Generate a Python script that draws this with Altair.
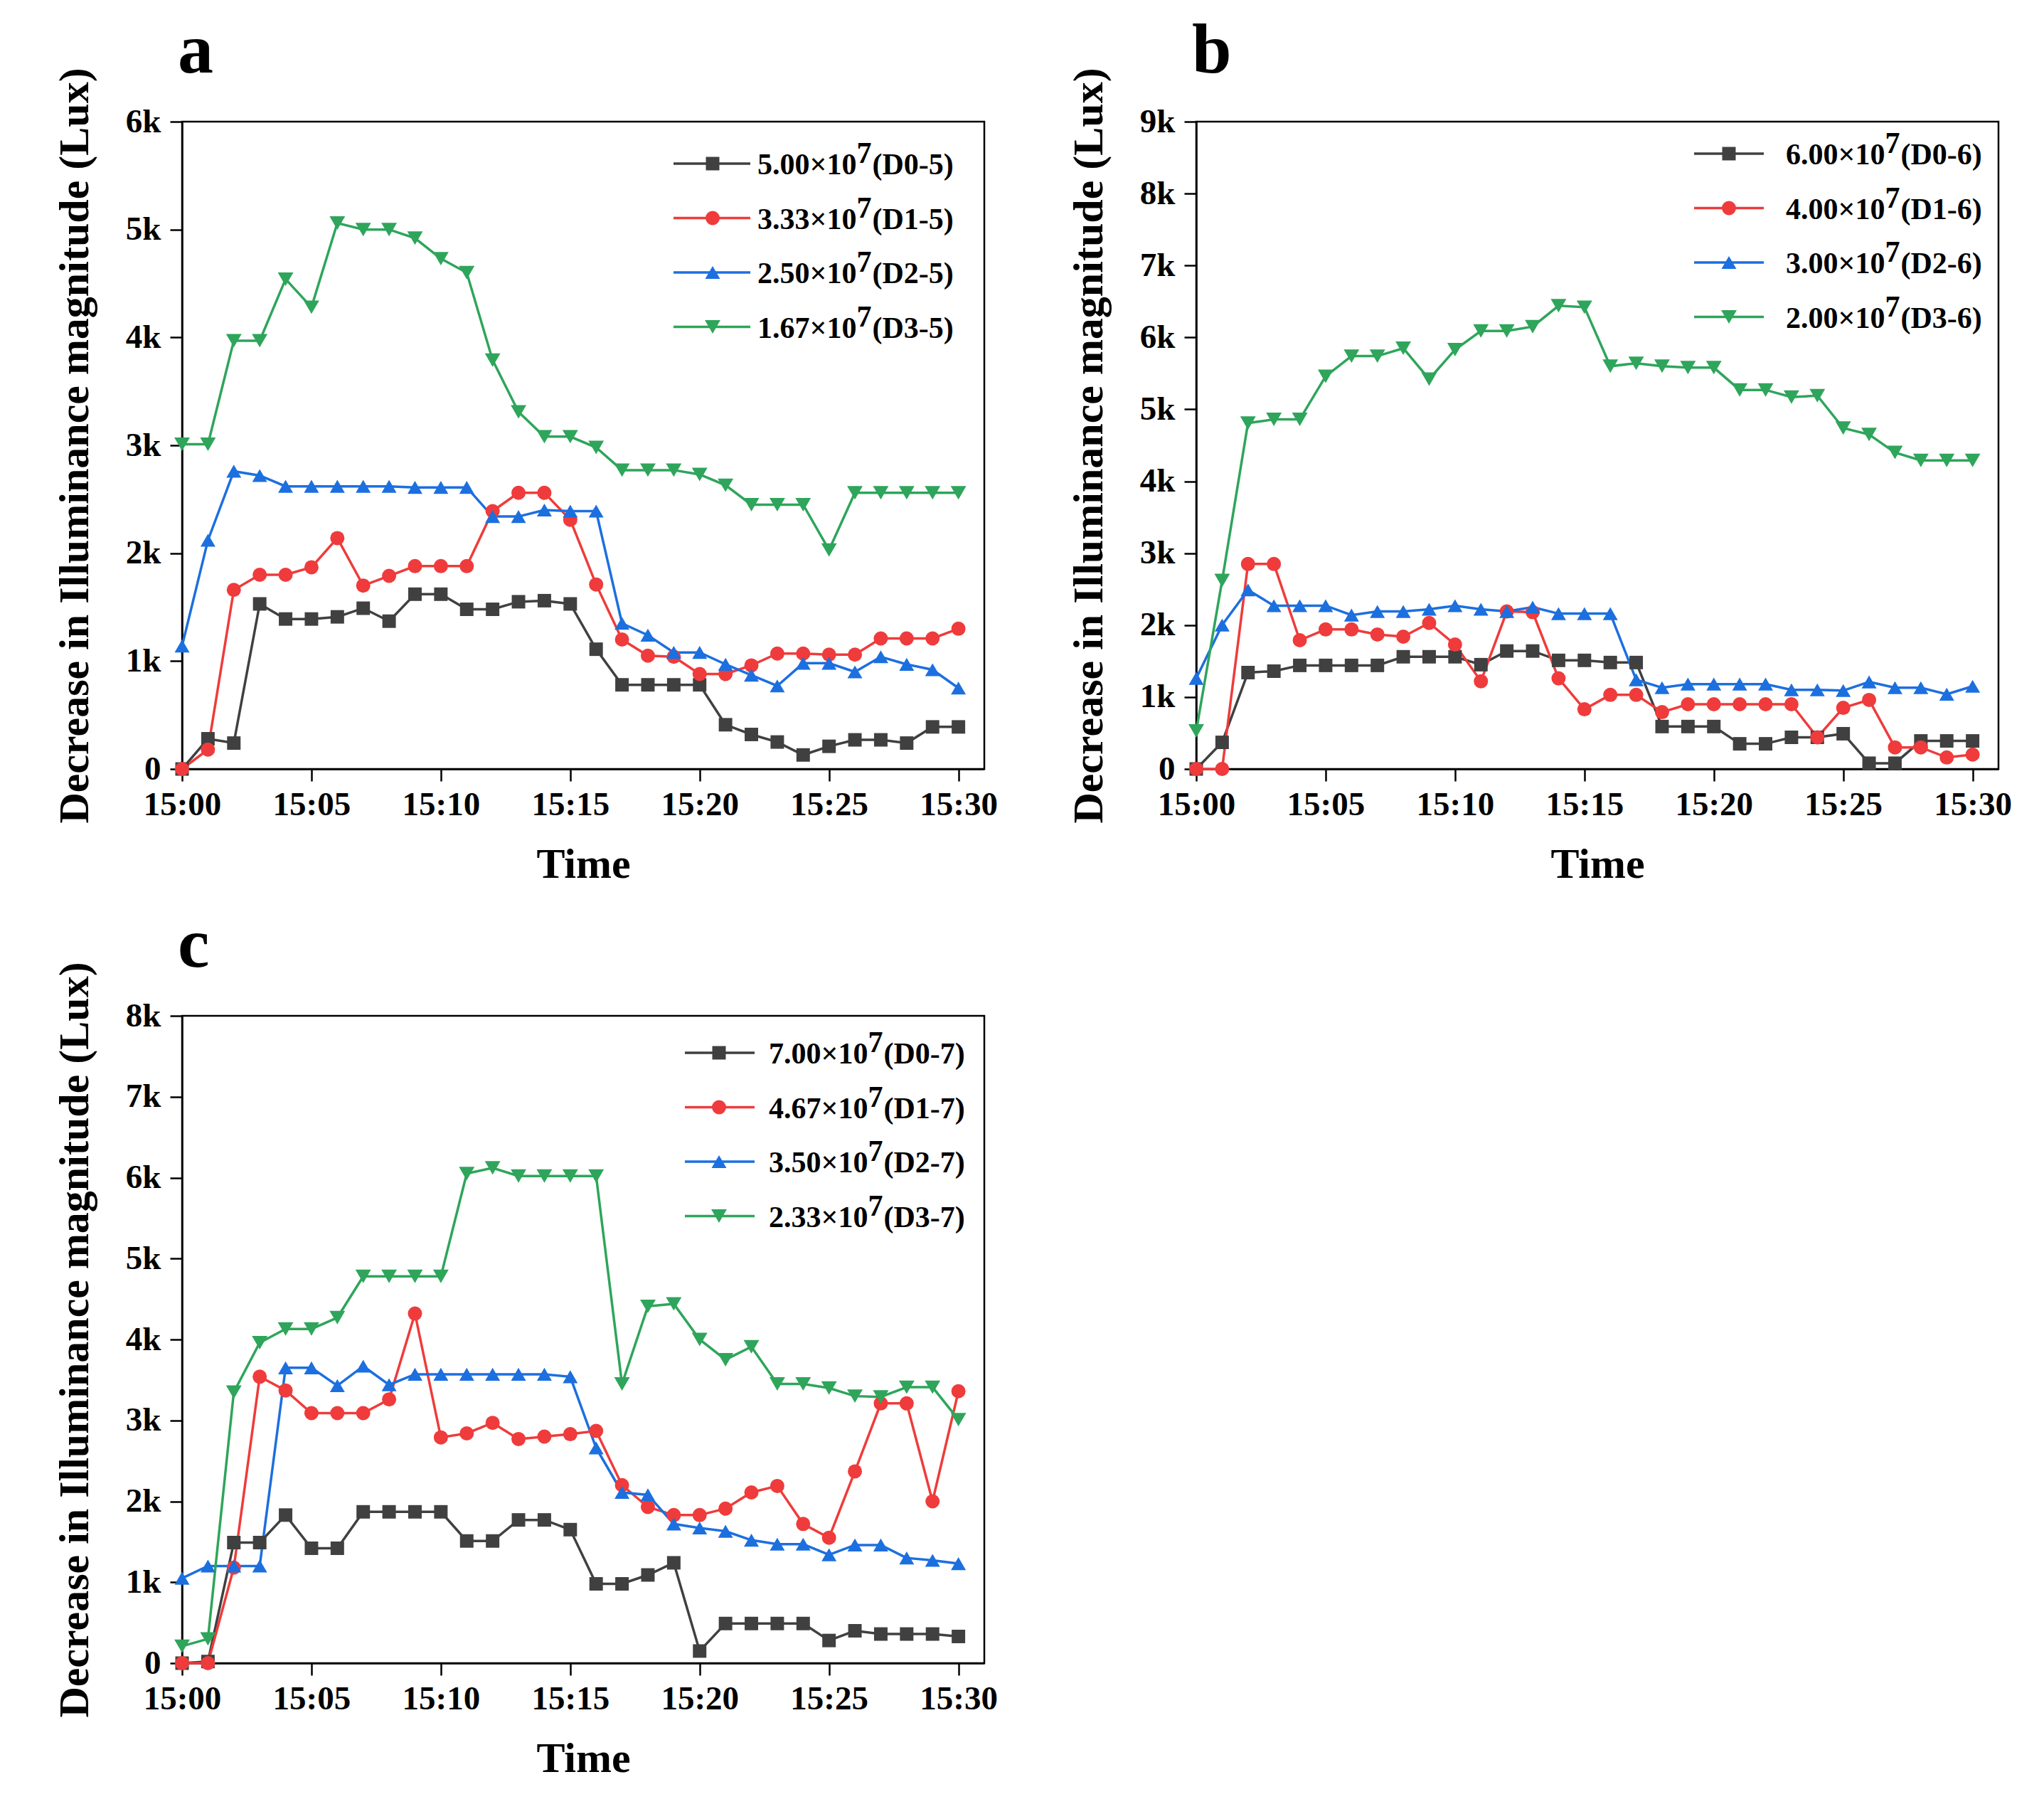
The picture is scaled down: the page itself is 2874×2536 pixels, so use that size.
import json
import altair as alt
import pandas as pd

FONT = "Liberation Serif"

# ---------------- data ----------------
MINUTES = list(range(31))                      # 15:00 ... 15:30
TICK_VALUES = [0, 5, 10, 15, 20, 25, 30]
TICK_LABELS = ["15:00", "15:05", "15:10", "15:15", "15:20", "15:25", "15:30"]

SERIES = ["D0", "D1", "D2", "D3"]
COLORS = ["#404040", "#ef3b3b", "#1c6fdf", "#2ea55b"]
SHAPES = ["square", "circle", "triangle-up", "triangle-down"]
SIZES = [360, 480, 560, 560]

PANEL_LETTERS = ["a", "b", "c"]

# panel a
A_D0 = [0, 280, 240, 1530, 1390, 1390, 1410, 1490, 1370, 1620, 1620, 1480, 1480, 1550, 1560, 1530,
        1110, 780, 780, 780, 780, 410, 320, 250, 130, 210, 270, 270, 240, 390, 390]
A_D1 = [0, 180, 1660, 1800, 1800, 1870, 2140, 1700, 1790, 1880, 1880, 1880, 2390, 2560, 2560, 2310,
        1710, 1200, 1050, 1040, 880, 880, 960, 1070, 1070, 1060, 1060, 1210, 1210, 1210, 1300]
A_D2 = [1140, 2120, 2760, 2720, 2620, 2620, 2620, 2620, 2620, 2610, 2610, 2610, 2340, 2340, 2400, 2390,
        2390, 1350, 1240, 1080, 1080, 970, 870, 770, 980, 980, 900, 1040, 970, 920, 750]
A_D3 = [3010, 3010, 3970, 3970, 4540, 4280, 5060, 5000, 5000, 4920, 4730, 4600, 3790, 3310, 3080, 3080,
        2980, 2770, 2770, 2770, 2730, 2630, 2450, 2450, 2450, 2030, 2560, 2560, 2560, 2560, 2560]
A_COEF = ["5.00", "3.33", "2.50", "1.67"]
A_CODE = ["D0-5", "D1-5", "D2-5", "D3-5"]

# panel b
B_D0 = [0, 370, 1340, 1360, 1440, 1440, 1440, 1440, 1560, 1560, 1560, 1450, 1640, 1640, 1510, 1510,
        1480, 1480, 590, 590, 590, 350, 350, 440, 440, 490, 80, 80, 390, 390, 390]
B_D1 = [0, 0, 2850, 2850, 1790, 1940, 1940, 1870, 1840, 2030, 1730, 1220, 2190, 2180, 1260, 830,
        1030, 1030, 790, 900, 900, 900, 900, 900, 440, 850, 960, 300, 300, 160, 200]
B_D2 = [1260, 2000, 2490, 2270, 2270, 2270, 2140, 2190, 2190, 2220, 2270, 2220, 2190, 2250, 2160, 2160,
        2160, 1240, 1130, 1180, 1180, 1180, 1180, 1100, 1100, 1090, 1210, 1130, 1130, 1040, 1150]
B_D3 = [530, 2620, 4810, 4860, 4860, 5460, 5740, 5740, 5850, 5420, 5830, 6090, 6090, 6150, 6440, 6420,
        5600, 5640, 5600, 5580, 5580, 5270, 5270, 5170, 5190, 4740, 4650, 4400, 4290, 4290, 4290]
B_COEF = ["6.00", "4.00", "3.00", "2.00"]
B_CODE = ["D0-6", "D1-6", "D2-6", "D3-6"]

# panel c
C_D0 = [0, 20, 1490, 1490, 1830, 1420, 1420, 1870, 1870, 1870, 1870, 1510, 1510, 1770, 1770, 1650,
        980, 980, 1090, 1240, 150, 490, 490, 490, 490, 280, 400, 360, 360, 360, 330]
C_D1 = [0, 0, 1180, 3540, 3370, 3090, 3090, 3090, 3260, 4320, 2790, 2840, 2970, 2770, 2800, 2830,
        2870, 2200, 1930, 1830, 1830, 1910, 2110, 2190, 1720, 1550, 2370, 3210, 3210, 2000, 3360]
C_D2 = [1050, 1200, 1200, 1200, 3650, 3650, 3430, 3670, 3440, 3570, 3570, 3570, 3570, 3570, 3570, 3540,
        2660, 2110, 2080, 1720, 1670, 1630, 1520, 1470, 1470, 1340, 1460, 1460, 1300, 1270, 1230]
C_D3 = [210, 300, 3350, 3960, 4130, 4130, 4270, 4780, 4780, 4780, 4780, 6050, 6120, 6020, 6020, 6020,
        6020, 3450, 4410, 4440, 4000, 3750, 3910, 3450, 3450, 3400, 3300, 3290, 3410, 3410, 3010]
C_COEF = ["7.00", "4.67", "3.50", "2.33"]
C_CODE = ["D0-7", "D1-7", "D2-7", "D3-7"]

Y_TITLE = "Decrease in Illuminance magnitude (Lux)"
X_TITLE = "Time"

# ---------------- layout ----------------
W, H = 1128, 910
XMAX = 31
LEG_FS = 42
ROW_GAP = 76.5


def panel(letter, ymax, values, coefs, codes, leg):
    rows = []
    for s, vals in zip(SERIES, values):
        for m, v in zip(MINUTES, vals):
            rows.append({"series": s, "minute": m, "value": v})
    df = pd.DataFrame(rows)

    top, rx1, rx2, rxm, rxt = leg
    lrows = []
    for i, s in enumerate(SERIES):
        yv = ymax * (1 - (top + i * ROW_GAP) / H)
        lrows.append({
            "series": s, "value": yv,
            "minute": rx1 / W * XMAX, "minute2": rx2 / W * XMAX,
            "mm": rxm / W * XMAX, "mt": rxt / W * XMAX,
            "main": coefs[i] + "\u00d710", "sup": "7", "tail": "(" + codes[i] + ")",
        })
    ldf = pd.DataFrame(lrows)

    label_expr = json.dumps(TICK_LABELS) + "[round(datum.value / 5)]"
    xenc = alt.X("minute:Q", scale=alt.Scale(domain=[0, XMAX], nice=False, zero=False),
                 axis=alt.Axis(values=TICK_VALUES, labelExpr=label_expr, title=X_TITLE))
    yenc = alt.Y("value:Q", scale=alt.Scale(domain=[0, ymax], nice=False),
                 axis=alt.Axis(values=list(range(0, ymax + 1, 1000)),
                               labelExpr="datum.value == 0 ? '0' : (datum.value / 1000) + 'k'",
                               title=Y_TITLE))
    color = alt.Color("series:N", scale=alt.Scale(domain=SERIES, range=COLORS), legend=None)
    shape = alt.Shape("series:N", scale=alt.Scale(domain=SERIES, range=SHAPES), legend=None)
    size = alt.Size("series:N", scale=alt.Scale(domain=SERIES, range=SIZES), legend=None)

    lines = alt.Chart(df).mark_line(strokeWidth=3.5).encode(
        x=xenc, y=yenc, color=color, detail="series:N", order="minute:Q")
    pts = alt.Chart(df).mark_point(filled=True, opacity=1, strokeWidth=0).encode(
        x=xenc, y=yenc, color=color, shape=shape, size=size)

    lrule = alt.Chart(ldf).mark_rule(strokeWidth=3.5).encode(
        x=xenc, x2="minute2:Q", y=yenc, color=color)
    lpt = alt.Chart(ldf).mark_point(filled=True, opacity=1, strokeWidth=0).encode(
        x=alt.X("mm:Q"), y=yenc, color=color, shape=shape, size=size)
    tstyle = dict(align="left", baseline="alphabetic", font=FONT, fontWeight="bold",
                  fontSize=LEG_FS, color="black")
    w_main = 3.32 * LEG_FS
    lmain = alt.Chart(ldf).mark_text(dy=15, **tstyle).encode(
        x=alt.X("mt:Q"), y=yenc, text="main:N")
    lsup = alt.Chart(ldf).mark_text(dy=-1, dx=w_main, **tstyle).encode(
        x=alt.X("mt:Q"), y=yenc, text="sup:N")
    ltail = alt.Chart(ldf).mark_text(dy=15, dx=w_main + 0.5 * LEG_FS + 1, **tstyle).encode(
        x=alt.X("mt:Q"), y=yenc, text="tail:N")

    tag = alt.Chart(pd.DataFrame({"letter": [letter]})).mark_text(
        align="left", baseline="alphabetic", font=FONT, fontWeight="bold",
        fontSize=100, color="black"
    ).encode(x=alt.value(-6), y=alt.value(-69), text="letter:N")

    return alt.layer(lines, pts, lrule, lpt, lmain, lsup, ltail, tag).properties(
        width=W, height=H)


pa = panel(PANEL_LETTERS[0], 6000, [A_D0, A_D1, A_D2, A_D3], A_COEF, A_CODE, (59, 691, 799, 746, 809))
pb = panel(PANEL_LETTERS[1], 9000, [B_D0, B_D1, B_D2, B_D3], B_COEF, B_CODE, (45, 700, 798, 749, 829))
pc = panel(PANEL_LETTERS[2], 8000, [C_D0, C_D1, C_D2, C_D3], C_COEF, C_CODE, (52, 707, 805, 755, 825))

chart = alt.concat(pa, pb, pc, columns=2, spacing={"row": 347, "column": 298}, bounds="flush")
chart = chart.properties(
    padding={"left": 66, "top": 12, "right": 5, "bottom": 5},
    background="white",
).configure_view(
    stroke="black", strokeWidth=2.5
).configure_axis(
    labelFont=FONT, labelFontSize=47, labelFontWeight="bold", labelColor="black",
    titleFont=FONT, titleFontSize=60, titleFontWeight="bold", titleColor="black",
    domainColor="black", domainWidth=2.5, tickColor="black", tickWidth=2.5, tickSize=17,
    grid=False, labelFlush=False, labelOverlap=False, labelPadding=13,
).configure_axisX(
    titlePadding=32, labelPadding=10
).configure_axisY(
    titlePadding=40
)

chart.save("out.html", embed_options={"renderer": "svg", "actions": False})
